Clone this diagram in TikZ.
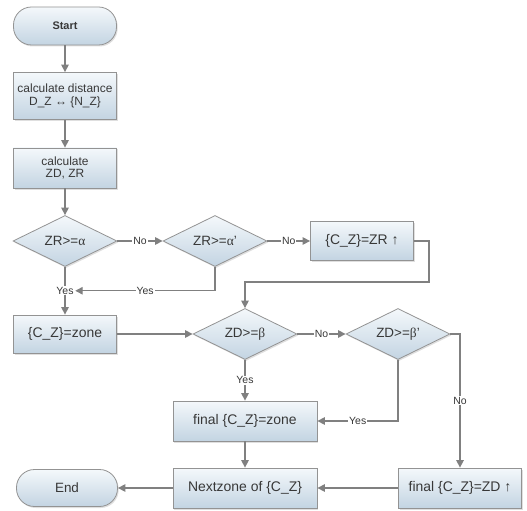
\documentclass[tikz,border=0pt]{standalone}
\usepackage{fontspec}
\setmainfont{Liberation Sans}
\newfontfamily\grk{Liberation Serif}
\usetikzlibrary{positioning,arrows.meta,shapes.geometric,shadows}
\definecolor{lineg}{HTML}{808080}
\definecolor{boxtop}{HTML}{F4F8FB}
\definecolor{boxbot}{HTML}{C3D4E2}
\definecolor{txtg}{HTML}{383838}

\begin{document}
\begin{tikzpicture}[x=1bp,y=-1bp,
  base/.style={draw=lineg!85, line width=0.8bp, top color=boxtop, bottom color=boxbot, text=txtg, inner sep=1bp,
    drop shadow={shadow xshift=1.2bp,shadow yshift=-1.5bp,opacity=0.25}},
  proc/.style={base, rectangle, minimum width=103bp, minimum height=39bp, font=\fontsize{14}{15}\selectfont},
  proc2/.style={proc, minimum height=47bp, align=center, font=\fontsize{12}{12.5}\selectfont},
  term/.style={base, rectangle, rounded corners=18bp, minimum width=103bp, minimum height=38bp},
  decide/.style={base, diamond, aspect=2, minimum width=104bp, minimum height=51bp, inner sep=0pt,
    font=\fontsize{13.5}{14}\selectfont},
  flow/.style={draw=lineg, line width=1.4bp, -{Triangle[length=7.5bp,width=7.5bp]}},
  lbl/.style={fill=white, inner sep=1bp, text=txtg, font=\fontsize{10.5}{11}\selectfont}]
  \useasboundingbox (0,0) rectangle (527,511);
  \node[term, font=\bfseries\fontsize{11}{12}\selectfont] (start) at (65,26) {Start};
  \node[proc2] (dist) at (65,96) {calculate distance\\D\_Z ↔ \{N\_Z\}};
  \node[proc2, minimum height=40bp] (calc) at (65,168) {calculate\\ZD, ZR};
  \node[decide] (zra) at (65,241) {ZR>={\grk α}};
  \node[decide] (zrb) at (215,241) {ZR>={\grk α}'};
  \node[proc] (zrup) at (362,241) {\{C\_Z\}=ZR ↑};
  \node[proc, minimum height=38bp] (zone) at (65,334) {\{C\_Z\}=zone};
  \node[decide] (zdb) at (245,334) {ZD>={\grk β}};
  \node[decide] (zdbp) at (398,334) {ZD>={\grk β}'};
  \node[proc, minimum width=144bp, minimum height=40bp] (fzone) at (245,421) {final \{C\_Z\}=zone};
  \node[proc, minimum width=144bp, minimum height=40bp] (next) at (245,488) {Nextzone of \{C\_Z\}};
  \node[proc, minimum width=123bp, minimum height=40bp] (fzd) at (460,488) {final \{C\_Z\}=ZD ↑};
  \node[term, minimum width=101bp, minimum height=37bp, font=\fontsize{13.5}{14}\selectfont] (end) at (67,488) {End};
  \coordinate (bend) at (429,282);
  \draw[flow] (start) -- (dist);
  \draw[flow] (dist) -- (calc);
  \draw[flow] (calc) -- (zra);
  \draw[flow] (zra) -- node[lbl]{No} (zrb);
  \draw[flow] (zrb) -- node[lbl]{No} (zrup);
  \draw[flow] (zra) -- node[lbl] (yes1) {Yes} (zone);
  \draw[flow] (zrb.south) |- node[lbl, pos=0.75]{Yes} (yes1.east);
  \draw[flow] (zrup.east) -| (bend) -| (zdb.north);
  \draw[flow] (zone) -- (zdb);
  \draw[flow] (zdb) -- node[lbl]{No} (zdbp);
  \draw[flow] (zdb) -- node[lbl]{Yes} (fzone);
  \draw[flow] (zdbp.south) |- node[lbl, pos=0.75]{Yes} (fzone.east);
  \draw[flow] (zdbp.east) -| node[lbl, pos=0.75]{No} (fzd.north);
  \draw[flow] (fzone) -- (next);
  \draw[flow] (fzd) -- (next);
  \draw[flow] (next) -- (end);
\end{tikzpicture}
\end{document}
